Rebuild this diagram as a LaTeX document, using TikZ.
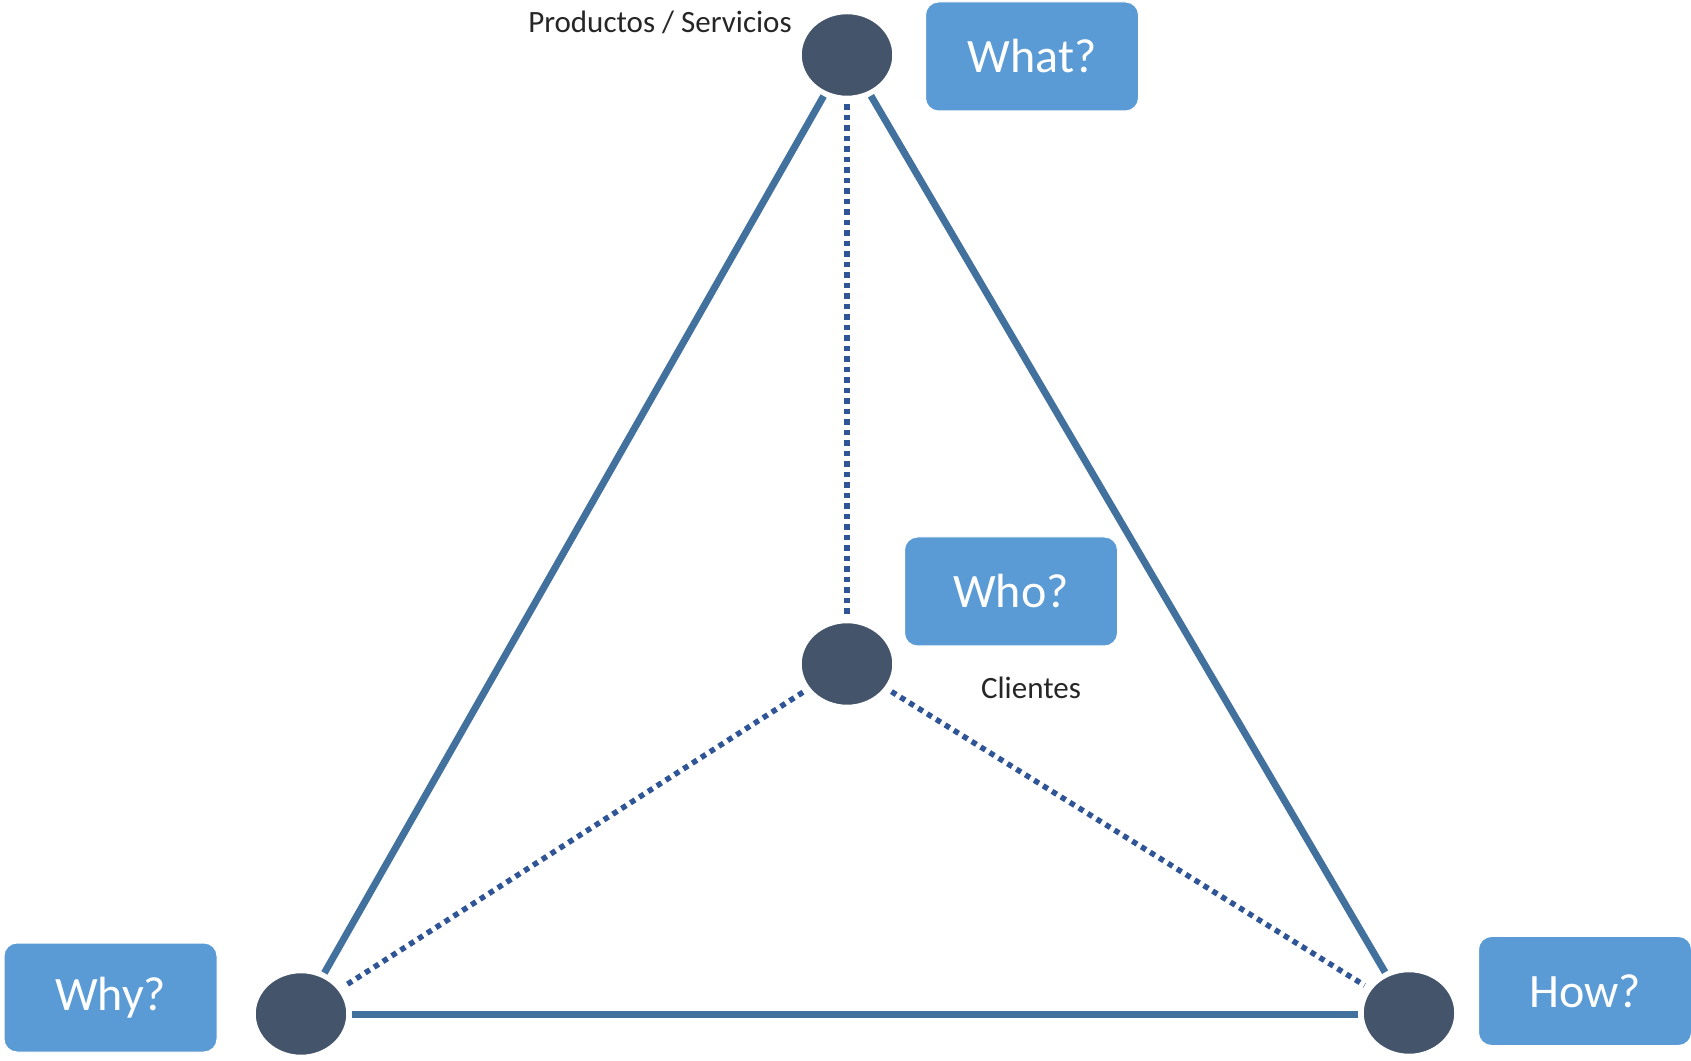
\documentclass[tikz,border=0pt]{standalone}
\usepackage{fontspec}
\setmainfont{Carlito}
\usetikzlibrary{shapes.geometric}
\definecolor{dotblue}{HTML}{2F5597}
\definecolor{lineblue}{HTML}{41719C}
\definecolor{boxblue}{HTML}{5B9BD5}
\definecolor{nodegray}{HTML}{44546A}
\definecolor{txtdark}{HTML}{262626}
\tikzset{
  vertex/.style={ellipse, fill=nodegray, draw=white, line width=1.5pt, minimum width=92pt, minimum height=83pt, inner sep=0pt},
  qbox/.style={rectangle, rounded corners=13pt, fill=boxblue, draw=white, line width=1pt, minimum width=213pt, minimum height=109pt, text=white, font=\fontsize{48}{56}\selectfont},
  lbl/.style={text=txtdark, font=\fontsize{31}{36}\selectfont, inner sep=0pt},
  solidline/.style={draw=lineblue, line width=7pt, shorten >=4pt, shorten <=4pt},
  dotline/.style={draw=dotblue, line width=5.5pt, dash pattern=on 5.5pt off 5pt, shorten >=7pt, shorten <=7pt}
}
\begin{document}
\begin{tikzpicture}[x=1pt,y=1pt]
\useasboundingbox (0,0) rectangle (1691,1060);
% vertices
\node[vertex] (top) at (847,1005) {};
\node[vertex] (mid) at (847,396) {};
\node[vertex] (left) at (301,46) {};
\node[vertex] (right) at (1409,47) {};
% edges
\draw[solidline] (top) -- (left);
\draw[solidline] (top) -- (right);
\draw[solidline] (left.east) -- (left.east -| right.west);
\draw[dotline] (top) -- (mid);
\draw[dotline] (mid) -- (left);
\draw[dotline] (mid) -- (right);
% boxes
\node[qbox] (what) at (1032,1003.5) {What?};
\node[qbox] (who) at (1011,468.5) {Who?};
\node[qbox] (why) at (110.5,62.5) {Why?};
\node[qbox] (how) at (1585,69) {How?};
% labels
\node[lbl] (prod) at (660,1038) {Productos / Servicios};
\node[lbl] (cli) at (1031,372) {Clientes};
\end{tikzpicture}
\end{document}
